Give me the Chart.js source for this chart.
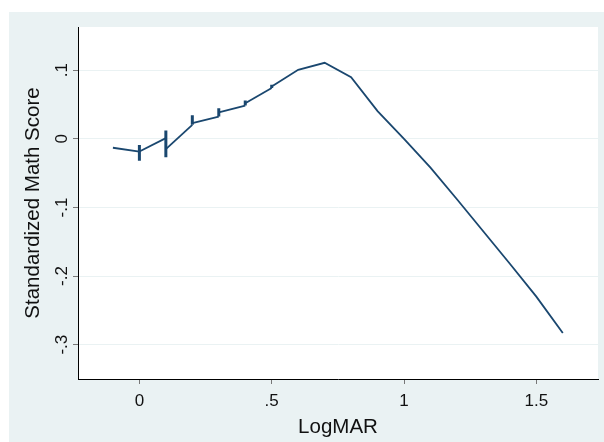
<!DOCTYPE html>
<html>
<head>
<meta charset="utf-8">
<script src="https://cdn.jsdelivr.net/npm/chart.js@4/dist/chart.umd.min.js"></script>
<style>
  html, body { margin: 0; padding: 0; background: #fff; }
  #wrap { width: 604px; height: 442px; }
</style>
</head>
<body>
<div id="wrap"><canvas id="chart" width="604" height="442"></canvas></div>
<script>
// --- DATA ---
// line visits repeated LogMAR values, which draws the short vertical spikes
const logmar = [-0.1, 0, 0, 0, 0, 0.1, 0.1, 0.1, 0.1, 0.2, 0.2, 0.2, 0.3, 0.3, 0.3,
  0.4, 0.4, 0.4, 0.5, 0.5, 0.5, 0.6, 0.7, 0.8, 0.9, 1.0, 1.1, 1.2, 1.3, 1.4, 1.5, 1.6];
const mathScore = [-0.013, -0.0185, -0.009, -0.032, -0.0185, 0.001, 0.012, -0.027, -0.015,
  0.0204, 0.0345, 0.0229, 0.0325, 0.0447, 0.0384, 0.0485, 0.0558, 0.052,
  0.074, 0.0787, 0.0763, 0.1006, 0.1108, 0.0899, 0.0405, 0.0, -0.042, -0.088,
  -0.135, -0.182, -0.230, -0.283];

const xTickValues = [0, 0.5, 1, 1.5];
const xTickLabels = ["0", ".5", "1", "1.5"];
const yTickValues = [0.1, 0, -0.1, -0.2, -0.3];
const yTickLabels = [".1", "0", "-.1", "-.2", "-.3"];

const xTitle = "LogMAR";
const yTitle = "Standardized Math Score";

// --- STYLE ---
const FONT = "'Liberation Sans', Arial, Helvetica, sans-serif";
const OUTER_BG = "#eaf2f3";
const LINE_COLOR = "#1a476f";

const points = logmar.map((x, i) => ({ x: x, y: mathScore[i] }));

const backgroundPlugin = {
  id: 'bg',
  beforeDraw(chart) {
    const { ctx, chartArea } = chart;
    ctx.save();
    ctx.fillStyle = '#fff';
    ctx.fillRect(0, 0, chart.width, chart.height);
    ctx.fillStyle = OUTER_BG;
    ctx.fillRect(9, 12, chart.width - 9, chart.height - 12);
    ctx.fillStyle = '#fff';
    ctx.fillRect(chartArea.left, chartArea.top, chartArea.right - chartArea.left, chartArea.bottom - chartArea.top);
    ctx.restore();
  }
};

// y tick labels are rotated (reading upwards), drawn at the scale's own pixel positions
const yLabelPlugin = {
  id: 'yLabels',
  afterDraw(chart) {
    const { ctx } = chart;
    const yScale = chart.scales.y;
    ctx.save();
    ctx.font = "17px " + FONT;
    ctx.fillStyle = '#111';
    ctx.textAlign = 'center';
    ctx.textBaseline = 'middle';
    yTickValues.forEach((v, i) => {
      ctx.save();
      ctx.translate(62, yScale.getPixelForValue(v));
      ctx.rotate(-Math.PI / 2);
      ctx.fillText(yTickLabels[i], 0, 0);
      ctx.restore();
    });
    ctx.restore();
  }
};

new Chart(document.getElementById('chart'), {
  type: 'scatter',
  data: {
    datasets: [{
      data: points,
      showLine: true,
      borderColor: LINE_COLOR,
      borderWidth: 1.8,
      pointRadius: 0,
      tension: 0,
      segment: {
        // the vertical runs at tied x values look heavier in the original
        borderWidth: (c) => c.p0.parsed.x === c.p1.parsed.x ? 3 : 1.8
      }
    }]
  },
  options: {
    responsive: false,
    animation: false,
    layout: { padding: { left: 0, top: 27, right: 6, bottom: 0 } },
    plugins: { legend: { display: false }, tooltip: { enabled: false } },
    scales: {
      x: {
        type: 'linear',
        min: -0.232,
        max: 1.733,
        afterBuildTicks: (s) => { s.ticks = xTickValues.map(v => ({ value: v })); },
        afterFit: (s) => { s.height = 63; },
        ticks: {
          color: '#111',
          font: { family: FONT, size: 17 },
          padding: 7,
          maxRotation: 0,
          callback: (v) => xTickLabels[xTickValues.indexOf(v)]
        },
        grid: { drawOnChartArea: false, tickLength: 5, tickColor: '#777' },
        border: { color: '#000', width: 1 },
        title: {
          display: true,
          text: xTitle,
          color: '#111',
          font: { family: FONT, size: 20.5 },
          padding: { top: 0, bottom: 2 }
        }
      },
      y: {
        type: 'linear',
        min: -0.35,
        max: 0.163,
        afterBuildTicks: (s) => { s.ticks = yTickValues.map(v => ({ value: v })); },
        afterFit: (s) => { s.width = 78; },
        ticks: { display: false },
        grid: { color: OUTER_BG, lineWidth: 1, tickLength: 5, tickColor: '#777' },
        border: { color: '#000', width: 1 },
        title: {
          display: true,
          text: yTitle,
          color: '#111',
          font: { family: FONT, size: 20.5 },
          padding: { top: 21, bottom: 0 }
        }
      }
    }
  },
  plugins: [backgroundPlugin, yLabelPlugin]
});
</script>
</body>
</html>
